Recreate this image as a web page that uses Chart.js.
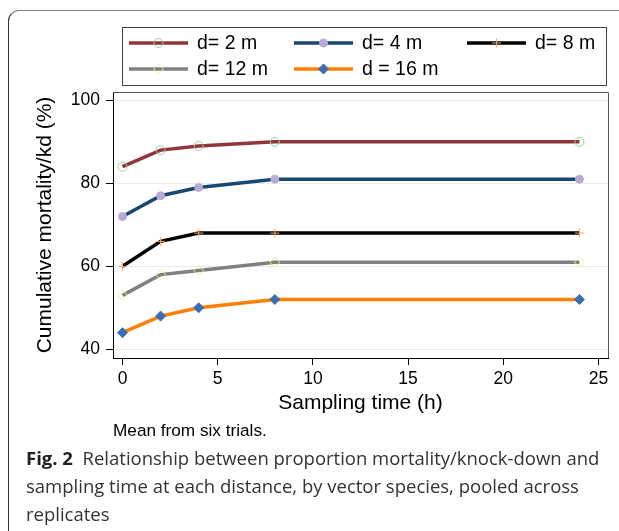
<!DOCTYPE html>
<html>
<head>
<meta charset="utf-8">
<script src="https://cdn.jsdelivr.net/npm/chart.js@4.4.0/dist/chart.umd.min.js"></script>
<style>
  body { margin: 0; background: #fff; }
  #wrap { position: relative; width: 619px; height: 531px; overflow: hidden; }
  #frame { position: absolute; left: 8px; top: 10px; width: 700px; height: 600px;
    border: 1.5px solid #333; border-top-color: #808080; border-radius: 11px; }
  #chart { position: absolute; left: 0; top: 0; }
  #note { position: absolute; left: 113px; top: 420px; font: 17.2px "Liberation Sans", Arial, sans-serif; color: #000; white-space: nowrap; }
  #caption { position: absolute; left: 26px; top: 444px; font: 18.5px "Open Sans", sans-serif; line-height: 27.8px; color: #333; white-space: nowrap; }
  #caption b { color: #222; }
</style>
</head>
<body>
<div id="wrap">
  <div id="frame"></div>
  <canvas id="chart" width="619" height="531"></canvas>
  <div id="note">Mean from six trials.</div>
  <div id="caption"><b>Fig. 2</b>&nbsp; Relationship between proportion mortality/knock-down and<br>sampling time at each distance, by vector species, pooled across<br>replicates</div>
</div>
<script>
// sampling times (h) and cumulative mortality/kd (%) per distance
const times = [0, 2, 4, 8, 24];
const d2 = [84, 88, 89, 90, 90];
const d4 = [72, 77, 79, 81, 81];
const d8 = [60, 66, 68, 68, 68];
const d12 = [53, 58, 59, 61, 61];
const d16 = [44, 48, 50, 52, 52];
const seriesNames = ["d= 2 m", "d= 4 m", "d= 8 m", "d= 12 m", "d = 16 m"];
const xTicks = [0, 5, 10, 15, 20, 25];
const yTicks = [40, 60, 80, 100];

Chart.defaults.font.family = "'Liberation Sans', Arial, sans-serif";
Chart.defaults.color = "#000";

function pts(vals) {
  return vals.map((v, i) => ({ x: times[i], y: v }));
}

function makeSet(label, vals, line, style, fill, border, r) {
  return {
    label: label,
    data: pts(vals),
    borderColor: line,
    borderWidth: 3.5,
    tension: 0,
    pointStyle: style,
    pointRadius: r,
    pointHoverRadius: r,
    pointBackgroundColor: fill,
    pointBorderColor: border,
    pointBorderWidth: 1
  };
}

const datasets = [
  makeSet(seriesNames[0], d2, "#90353b", "circle", "rgba(0,0,0,0)", "#96d096", 4.5),
  makeSet(seriesNames[1], d4, "#1a476f", "circle", "#b9a9d6", "#b9a9d6", 4),
  makeSet(seriesNames[2], d8, "#000000", "cross", "#f4a56a", "#f4a56a", 4.5),
  makeSet(seriesNames[3], d12, "#808080", "rectRot", "rgba(0,0,0,0)", "#efec98", 5),
  makeSet(seriesNames[4], d16, "#ff7f00", "rectRot", "#3b6db3", "#3b6db3", 5)
];

// legend box like the stata one, 3 columns
const boxLegend = {
  id: "boxLegend",
  afterDraw(chart) {
    const ctx = chart.ctx;
    ctx.save();
    ctx.strokeStyle = "#444";
    ctx.lineWidth = 1;
    ctx.strokeRect(122.5, 27.5, 484, 58);
    const cols = [129, 294, 467];
    const rows = [43, 69];
    ctx.font = "19.5px 'Liberation Sans', Arial, sans-serif";
    ctx.textBaseline = "middle";
    chart.data.datasets.forEach((ds, i) => {
      const x = cols[i % 3];
      const y = rows[Math.floor(i / 3)];
      ctx.strokeStyle = ds.borderColor;
      ctx.lineWidth = ds.borderWidth;
      ctx.beginPath();
      ctx.moveTo(x, y);
      ctx.lineTo(x + 59, y);
      ctx.stroke();
      ctx.fillStyle = ds.pointBackgroundColor;
      ctx.strokeStyle = ds.pointBorderColor;
      ctx.lineWidth = ds.pointBorderWidth;
      Chart.helpers.drawPoint(ctx, { pointStyle: ds.pointStyle, radius: ds.pointRadius, borderWidth: 1, rotation: 0 }, x + 29.5, y);
      ctx.fillStyle = "#000";
      ctx.fillText(ds.label, x + 68, y + 1);
    });
    // top and right edge of the plot region
    const a = chart.chartArea;
    ctx.strokeStyle = "#555";
    ctx.lineWidth = 1;
    ctx.beginPath();
    ctx.moveTo(a.left, a.top + 0.5);
    ctx.lineTo(a.right + 0.5, a.top + 0.5);
    ctx.lineTo(a.right + 0.5, a.bottom);
    ctx.stroke();
    ctx.restore();
  }
};

new Chart("chart", {
  type: "line",
  data: { datasets: datasets },
  options: {
    responsive: false,
    animation: false,
    events: [],
    layout: { padding: { top: 92, right: 11, bottom: 115, left: 0 } },
    plugins: { legend: { display: false }, tooltip: { enabled: false } },
    scales: {
      x: {
        type: "linear",
        min: -0.5,
        max: 25.5,
        afterBuildTicks: s => { s.ticks = xTicks.map(v => ({ value: v })); },
        afterFit: s => { s.height = 58; },
        ticks: { font: { size: 17.5 }, padding: 4, maxRotation: 0 },
        grid: { drawOnChartArea: false, tickLength: 7, tickColor: "#000" },
        border: { color: "#000", width: 1 },
        title: { display: true, text: "Sampling time (h)", font: { size: 21 }, padding: 0 }
      },
      y: {
        min: 37.9,
        max: 102,
        afterBuildTicks: s => { s.ticks = yTicks.map(v => ({ value: v })); },
        afterFit: s => { s.width = 113; },
        ticks: { font: { size: 17.5 }, padding: 6 },
        grid: { color: "#e4eef0", tickLength: 7, tickColor: "#000" },
        border: { color: "#000", width: 1 },
        title: { display: true, text: "Cumulative mortality/kd (%)", font: { size: 21 }, padding: { top: 33, bottom: 0 } }
      }
    }
  },
  plugins: [boxLegend]
});
</script>
</body>
</html>
